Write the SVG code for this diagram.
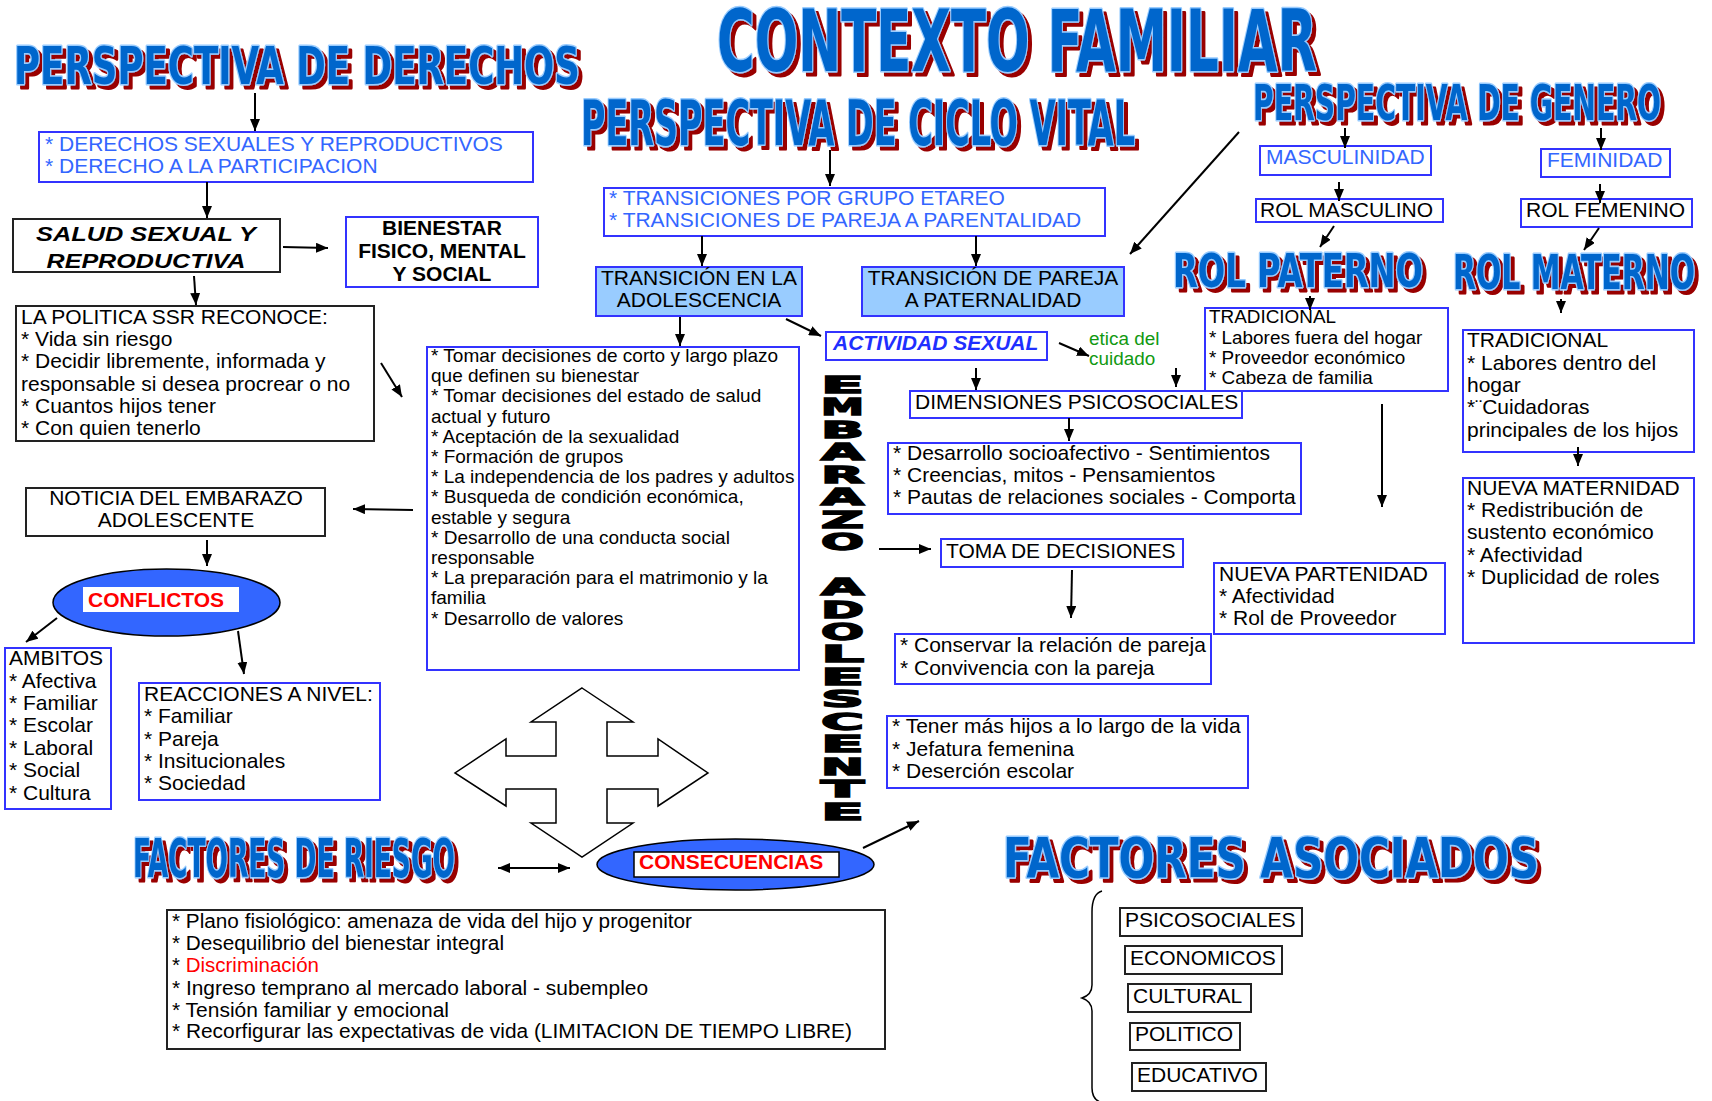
<svg xmlns="http://www.w3.org/2000/svg" width="1712" height="1101" viewBox="0 0 1712 1101">
<style>
.tx{font-family:"Liberation Sans",Arial,sans-serif;font-size:21px;fill:#000}
.sm{font-size:19px}
.xs{font-size:18.9px}
.b{font-weight:bold}
.bi{font-weight:bold;font-style:italic}
.blu{fill:#3366FF}
.act{fill:#1F2FFF}
.red{fill:#FF0000}
.grn{fill:#119911}
.mid{text-anchor:middle}
.nar{font-family:"Liberation Sans Narrow","Liberation Sans",Arial,sans-serif;font-size:19.5px;fill:#000}
.ttl{font-family:"DejaVu Sans Condensed","DejaVu Sans",sans-serif;font-weight:bold;fill:#0066CC;stroke:#99CCFF;stroke-width:3;paint-order:stroke;stroke-linejoin:round;filter:url(#shd)}
.bx{fill:#fff;stroke:#3333FF;stroke-width:2}
.bk{fill:#fff;stroke:#222;stroke-width:2}
.lb{fill:#99CCFF;stroke:#3333FF;stroke-width:2}
.cn{stroke:#000;stroke-width:2;fill:none;marker-end:url(#ah)}
.emb{font-family:"DejaVu Sans",sans-serif;font-weight:bold;font-size:23px;fill:#000;stroke:#000;stroke-width:1.4}
</style>
<defs>
<marker id="ah" viewBox="0 0 12 10" refX="12" refY="5" markerWidth="12" markerHeight="10" markerUnits="userSpaceOnUse" orient="auto-start-reverse">
<path d="M0,0 L12,5 L0,10 z" fill="#000"/>
</marker>
<filter id="shd" x="-5%" y="-25%" width="110%" height="150%">
<feOffset in="SourceAlpha" dx="3.5" dy="3.5" result="o"/>
<feFlood flood-color="#990000"/>
<feComposite in2="o" operator="in" result="s"/>
<feMerge><feMergeNode in="s"/><feMergeNode in="SourceGraphic"/></feMerge>
</filter>
</defs>

<!-- Titles -->
<g id="title-contexto">
<text class="ttl" x="717" y="71" font-size="85" textLength="600" lengthAdjust="spacingAndGlyphs">CONTEXTO FAMILIAR</text>
</g>
<g id="title-derechos">
<text class="ttl" x="14" y="84" font-size="51" textLength="566" lengthAdjust="spacingAndGlyphs">PERSPECTIVA DE DERECHOS</text>
</g>
<g id="title-ciclo">
<text class="ttl" x="581" y="145" font-size="62" textLength="554" lengthAdjust="spacingAndGlyphs">PERSPECTIVA DE CICLO VITAL</text>
</g>
<g id="title-genero">
<text class="ttl" x="1253" y="120" font-size="50" textLength="408" lengthAdjust="spacingAndGlyphs">PERSPECTIVA DE GENERO</text>
</g>
<g id="title-paterno">
<text class="ttl" x="1173" y="287" font-size="46" textLength="250" lengthAdjust="spacingAndGlyphs">ROL PATERNO</text>
</g>
<g id="title-materno">
<text class="ttl" x="1453" y="289" font-size="48" textLength="242" lengthAdjust="spacingAndGlyphs">ROL MATERNO</text>
</g>
<g id="title-riesgo">
<text class="ttl" x="133" y="877" font-size="54" textLength="322" lengthAdjust="spacingAndGlyphs">FACTORES DE RIESGO</text>
</g>
<g id="title-asociados">
<text class="ttl" x="1003" y="877" font-size="55" textLength="536" lengthAdjust="spacingAndGlyphs">FACTORES ASOCIADOS</text>
</g>

<!-- Left column -->
<g id="derechos">
<rect class="bx" x="39" y="132" width="494" height="50"/>
<text class="tx blu" x="45" y="151">* DERECHOS SEXUALES Y REPRODUCTIVOS</text>
<text class="tx blu" x="45" y="173">* DERECHO A LA PARTICIPACION</text>
</g>
<g id="salud">
<rect class="bk" x="13" y="219" width="267" height="53"/>
<text class="tx bi mid" x="146" y="241" font-size="23" textLength="220" lengthAdjust="spacingAndGlyphs">SALUD SEXUAL Y</text>
<text class="tx bi mid" x="146" y="268" font-size="23" textLength="199" lengthAdjust="spacingAndGlyphs">REPRODUCTIVA</text>
</g>
<g id="bienestar">
<rect class="bx" x="346" y="217" width="192" height="70"/>
<text class="tx b mid" x="442" y="235" font-size="20.5">BIENESTAR</text>
<text class="tx b mid" x="442" y="258" font-size="20.5">FISICO, MENTAL</text>
<text class="tx b mid" x="442" y="281" font-size="20.5">Y SOCIAL</text>
</g>
<g id="politica">
<rect class="bk" x="16" y="306" width="358" height="135"/>
<text class="tx" x="21" y="324">LA POLITICA SSR RECONOCE:</text>
<text class="tx" x="21" y="346">* Vida sin riesgo</text>
<text class="tx" x="21" y="368">* Decidir libremente, informada y</text>
<text class="tx" x="21" y="391">responsable si desea procrear o no</text>
<text class="tx" x="21" y="413">* Cuantos hijos tener</text>
<text class="tx" x="21" y="435">* Con quien tenerlo</text>
</g>
<g id="noticia">
<rect class="bk" x="26" y="488" width="299" height="48"/>
<text class="tx mid" x="176" y="505">NOTICIA DEL EMBARAZO</text>
<text class="tx mid" x="176" y="527">ADOLESCENTE</text>
</g>
<g id="conflictos">
<ellipse cx="166.5" cy="602.5" rx="113.5" ry="33.5" fill="#3366FF" stroke="#000" stroke-width="1.5"/>
<rect x="83" y="587" width="156" height="25" fill="#fff"/>
<text class="tx b red" x="88" y="607" font-size="20.5">CONFLICTOS</text>
</g>
<g id="ambitos">
<rect class="bx" x="5" y="648" width="106" height="161"/>
<text class="tx" x="9" y="665">AMBITOS</text>
<text class="tx" x="9" y="688">* Afectiva</text>
<text class="tx" x="9" y="710">* Familiar</text>
<text class="tx" x="9" y="732">* Escolar</text>
<text class="tx" x="9" y="755">* Laboral</text>
<text class="tx" x="9" y="777">* Social</text>
<text class="tx" x="9" y="800">* Cultura</text>
</g>
<g id="reacciones">
<rect class="bx" x="139" y="683" width="241" height="117"/>
<text class="tx" x="144" y="701">REACCIONES A NIVEL:</text>
<text class="tx" x="144" y="723">* Familiar</text>
<text class="tx" x="144" y="746">* Pareja</text>
<text class="tx" x="144" y="768">* Insitucionales</text>
<text class="tx" x="144" y="790">* Sociedad</text>
</g>

<!-- Middle -->
<g id="transiciones">
<rect class="bx" x="604" y="188" width="501" height="48"/>
<text class="tx blu" x="609" y="205">* TRANSICIONES POR GRUPO ETAREO</text>
<text class="tx blu" x="609" y="227">* TRANSICIONES DE PAREJA A PARENTALIDAD</text>
</g>
<g id="trans-adolescencia">
<rect class="lb" x="596" y="267" width="206" height="49"/>
<text class="tx mid" x="699" y="285">TRANSICIÓN EN LA</text>
<text class="tx mid" x="699" y="307">ADOLESCENCIA</text>
</g>
<g id="trans-pareja">
<rect class="lb" x="862" y="267" width="262" height="49"/>
<text class="tx mid" x="993" y="285">TRANSICIÓN DE PAREJA</text>
<text class="tx mid" x="993" y="307">A PATERNALIDAD</text>
</g>
<g id="lista-adolescencia">
<rect class="bx" x="427" y="347" width="372" height="323"/>
<text class="tx sm" x="431" y="362">* Tomar decisiones de corto y largo plazo</text>
<text class="tx sm" x="431" y="382">que definen su bienestar</text>
<text class="tx sm" x="431" y="402">* Tomar decisiones del estado de salud</text>
<text class="tx sm" x="431" y="423">actual y futuro</text>
<text class="tx sm" x="431" y="443">* Aceptación de la sexualidad</text>
<text class="tx sm" x="431" y="463">* Formación de grupos</text>
<text class="tx sm" x="431" y="483">* La independencia de los padres y adultos</text>
<text class="tx sm" x="431" y="503">* Busqueda de condición económica,</text>
<text class="tx sm" x="431" y="524">estable y segura</text>
<text class="tx sm" x="431" y="544">* Desarrollo de una conducta social</text>
<text class="tx sm" x="431" y="564">responsable</text>
<text class="tx sm" x="431" y="584">* La preparación para el matrimonio y la</text>
<text class="tx sm" x="431" y="604">familia</text>
<text class="tx sm" x="431" y="625">* Desarrollo de valores</text>
</g>
<g id="embarazo">
<text class="emb" x="821" y="393" textLength="43" lengthAdjust="spacingAndGlyphs">E</text>
<text class="emb" x="821" y="415" textLength="43" lengthAdjust="spacingAndGlyphs">M</text>
<text class="emb" x="821" y="438" textLength="43" lengthAdjust="spacingAndGlyphs">B</text>
<text class="emb" x="821" y="460" textLength="43" lengthAdjust="spacingAndGlyphs">A</text>
<text class="emb" x="821" y="483" textLength="43" lengthAdjust="spacingAndGlyphs">R</text>
<text class="emb" x="821" y="505" textLength="43" lengthAdjust="spacingAndGlyphs">A</text>
<text class="emb" x="821" y="528" textLength="43" lengthAdjust="spacingAndGlyphs">Z</text>
<text class="emb" x="821" y="550" textLength="43" lengthAdjust="spacingAndGlyphs">O</text>
<text class="emb" x="821" y="595" textLength="43" lengthAdjust="spacingAndGlyphs">A</text>
<text class="emb" x="821" y="618" textLength="43" lengthAdjust="spacingAndGlyphs">D</text>
<text class="emb" x="821" y="640" textLength="43" lengthAdjust="spacingAndGlyphs">O</text>
<text class="emb" x="821" y="662" textLength="43" lengthAdjust="spacingAndGlyphs">L</text>
<text class="emb" x="821" y="685" textLength="43" lengthAdjust="spacingAndGlyphs">E</text>
<text class="emb" x="821" y="707" textLength="43" lengthAdjust="spacingAndGlyphs">S</text>
<text class="emb" x="821" y="730" textLength="43" lengthAdjust="spacingAndGlyphs">C</text>
<text class="emb" x="821" y="752" textLength="43" lengthAdjust="spacingAndGlyphs">E</text>
<text class="emb" x="821" y="775" textLength="43" lengthAdjust="spacingAndGlyphs">N</text>
<text class="emb" x="821" y="797" textLength="43" lengthAdjust="spacingAndGlyphs">T</text>
<text class="emb" x="821" y="820" textLength="43" lengthAdjust="spacingAndGlyphs">E</text>
</g>
<g id="actividad">
<rect class="bx" x="826" y="332" width="221" height="28"/>
<text class="tx bi act" x="833" y="350" font-size="20.5">ACTIVIDAD SEXUAL</text>
</g>
<g id="etica">
<text class="tx xs grn" x="1089" y="345">etica del</text>
<text class="tx xs grn" x="1089" y="365">cuidado</text>
</g>
<g id="dimensiones">
<rect class="bx" x="910" y="391" width="332" height="27"/>
<text class="tx" x="915" y="409">DIMENSIONES PSICOSOCIALES</text>
</g>
<g id="desarrollo">
<rect class="bx" x="888" y="443" width="413" height="71"/>
<text class="tx" x="893" y="460">* Desarrollo socioafectivo - Sentimientos</text>
<text class="tx" x="893" y="482">* Creencias, mitos - Pensamientos</text>
<text class="tx" x="893" y="504">* Pautas de relaciones sociales - Comporta</text>
</g>
<g id="toma">
<rect class="bx" x="941" y="539" width="242" height="28"/>
<text class="tx" x="946" y="558">TOMA DE DECISIONES</text>
</g>
<g id="conservar">
<rect class="bx" x="895" y="634" width="316" height="50"/>
<text class="tx" x="900" y="652">* Conservar la relación de pareja</text>
<text class="tx" x="900" y="675">* Convivencia con la pareja</text>
</g>
<g id="tener">
<rect class="bx" x="887" y="716" width="361" height="72"/>
<text class="tx" x="892" y="733">* Tener más hijos a lo largo de la vida</text>
<text class="tx" x="892" y="756">* Jefatura femenina</text>
<text class="tx" x="892" y="778">* Deserción escolar</text>
</g>
<g id="cruz">
<polygon points="582,688 633,722 607,722 607,756 658,756 658,739 708,773 658,806 658,789 607,789 607,823 633,823 582,857 531,823 556,823 556,789 506,789 506,806 455,773 506,739 506,756 556,756 556,722 531,722" fill="#fff" stroke="#000" stroke-width="1.5"/>
</g>
<g id="consecuencias">
<ellipse cx="735.5" cy="864.5" rx="138.5" ry="25.5" fill="#3366FF" stroke="#000" stroke-width="1.5"/>
<rect x="634" y="852" width="205" height="25" fill="#fff" stroke="#000" stroke-width="1.5"/>
<text class="tx b red" x="639" y="869" font-size="20.5">CONSECUENCIAS</text>
</g>
<g id="riesgo-lista">
<rect class="bk" x="167" y="910" width="718" height="139"/>
<text class="nar" x="172" y="928" textLength="520" lengthAdjust="spacingAndGlyphs">* Plano fisiológico: amenaza de vida del hijo y progenitor</text>
<text class="nar" x="172" y="950" textLength="332" lengthAdjust="spacingAndGlyphs">* Desequilibrio del bienestar integral</text>
<text class="nar" x="172" y="972" textLength="147" lengthAdjust="spacingAndGlyphs">* <tspan fill="#FF0000">Discriminación</tspan></text>
<text class="nar" x="172" y="995" textLength="476" lengthAdjust="spacingAndGlyphs">* Ingreso temprano al mercado laboral - subempleo</text>
<text class="nar" x="172" y="1017" textLength="277" lengthAdjust="spacingAndGlyphs">* Tensión familiar y emocional</text>
<text class="nar" x="172" y="1038" textLength="680" lengthAdjust="spacingAndGlyphs">* Recorfigurar las expectativas de vida (LIMITACION DE TIEMPO LIBRE)</text>
</g>

<!-- Right (genero) -->
<g id="masculinidad">
<rect class="bx" x="1260" y="146" width="171" height="29"/>
<text class="tx blu" x="1266" y="164">MASCULINIDAD</text>
</g>
<g id="feminidad">
<rect class="bx" x="1541" y="149" width="129" height="28"/>
<text class="tx blu" x="1547" y="167">FEMINIDAD</text>
</g>
<g id="rol-masculino">
<rect class="bx" x="1256" y="199" width="187" height="23"/>
<text class="tx" x="1260" y="217">ROL MASCULINO</text>
</g>
<g id="rol-femenino">
<rect class="bx" x="1521" y="199" width="171" height="28"/>
<text class="tx" x="1526" y="217">ROL FEMENINO</text>
</g>
<g id="tradicional-paterno">
<rect class="bx" x="1205" y="308" width="243" height="83"/>
<text class="tx xs" x="1209" y="323">TRADICIONAL</text>
<text class="tx xs" x="1209" y="344">* Labores fuera del hogar</text>
<text class="tx xs" x="1209" y="364">* Proveedor económico</text>
<text class="tx xs" x="1209" y="384">* Cabeza de familia</text>
</g>
<g id="nueva-partenidad">
<rect class="bx" x="1214" y="563" width="231" height="71"/>
<text class="tx" x="1219" y="581">NUEVA PARTENIDAD</text>
<text class="tx" x="1219" y="603">* Afectividad</text>
<text class="tx" x="1219" y="625">* Rol de Proveedor</text>
</g>
<g id="tradicional-materno">
<rect class="bx" x="1463" y="330" width="231" height="122"/>
<text class="tx" x="1467" y="347">TRADICIONAL</text>
<text class="tx" x="1467" y="370">* Labores dentro del</text>
<text class="tx" x="1467" y="392">hogar</text>
<text class="tx" x="1467" y="414">*¨Cuidadoras</text>
<text class="tx" x="1467" y="437">principales de los hijos</text>
</g>
<g id="nueva-maternidad">
<rect class="bx" x="1463" y="478" width="231" height="165"/>
<text class="tx" x="1467" y="495">NUEVA MATERNIDAD</text>
<text class="tx" x="1467" y="517">* Redistribución de</text>
<text class="tx" x="1467" y="539">sustento económico</text>
<text class="tx" x="1467" y="562">* Afectividad</text>
<text class="tx" x="1467" y="584">* Duplicidad de roles</text>
</g>
<g id="factores-asociados">
<path d="M1102,891 C1095,893 1092,900 1092,912 L1092,985 C1092,992 1088,996 1082,998 C1088,1000 1092,1004 1092,1011 L1092,1088 C1092,1096 1095,1100 1100,1102" fill="none" stroke="#000" stroke-width="1.5"/>
<rect class="bk" x="1120" y="908" width="182" height="28"/>
<text class="tx" x="1125" y="927">PSICOSOCIALES</text>
<rect class="bk" x="1125" y="946" width="157" height="28"/>
<text class="tx" x="1130" y="965">ECONOMICOS</text>
<rect class="bk" x="1128" y="984" width="123" height="28"/>
<text class="tx" x="1133" y="1003">CULTURAL</text>
<rect class="bk" x="1130" y="1023" width="110" height="27"/>
<text class="tx" x="1135" y="1041">POLITICO</text>
<rect class="bk" x="1132" y="1063" width="134" height="28"/>
<text class="tx" x="1137" y="1082">EDUCATIVO</text>
</g>

<!-- Connectors -->
<g id="connectors">
<line class="cn" x1="255" y1="93" x2="255" y2="131"/>
<line class="cn" x1="207" y1="182" x2="207" y2="218"/>
<line class="cn" x1="283" y1="247" x2="328" y2="248"/>
<line class="cn" x1="194" y1="276" x2="196" y2="305"/>
<line class="cn" x1="381" y1="363" x2="402" y2="397"/>
<line class="cn" x1="413" y1="510" x2="353" y2="509"/>
<line class="cn" x1="207" y1="540" x2="207" y2="566"/>
<line class="cn" x1="57" y1="618" x2="26" y2="642"/>
<line class="cn" x1="238" y1="631" x2="244" y2="674"/>
<line class="cn" x1="830" y1="150" x2="830" y2="186"/>
<line class="cn" x1="702" y1="236" x2="702" y2="266"/>
<line class="cn" x1="976" y1="236" x2="976" y2="266"/>
<line class="cn" x1="680" y1="317" x2="680" y2="346"/>
<line class="cn" x1="786" y1="319" x2="821" y2="336"/>
<line class="cn" x1="1239" y1="132" x2="1130" y2="254"/>
<line class="cn" x1="1059" y1="343" x2="1089" y2="356"/>
<line class="cn" x1="976" y1="368" x2="976" y2="390"/>
<line class="cn" x1="1176" y1="368" x2="1176" y2="387"/>
<line class="cn" x1="1069" y1="418" x2="1069" y2="441"/>
<line class="cn" x1="879" y1="549" x2="931" y2="549"/>
<line class="cn" x1="1072" y1="570" x2="1071" y2="618"/>
<line class="cn" x1="863" y1="848" x2="919" y2="821"/>
<line class="cn" x1="498" y1="868" x2="570" y2="868" marker-start="url(#ah)"/>
<line class="cn" x1="1345" y1="128" x2="1345" y2="148"/>
<line class="cn" x1="1601" y1="128" x2="1601" y2="150"/>
<line class="cn" x1="1339" y1="182" x2="1339" y2="201"/>
<line class="cn" x1="1600" y1="184" x2="1600" y2="203"/>
<line class="cn" x1="1334" y1="226" x2="1320" y2="247"/>
<line class="cn" x1="1599" y1="228" x2="1584" y2="250"/>
<line class="cn" x1="1310" y1="296" x2="1310" y2="310"/>
<line class="cn" x1="1561" y1="299" x2="1561" y2="313"/>
<line class="cn" x1="1578" y1="447" x2="1578" y2="466"/>
<line class="cn" x1="1382" y1="404" x2="1382" y2="507"/>
</g>
</svg>
